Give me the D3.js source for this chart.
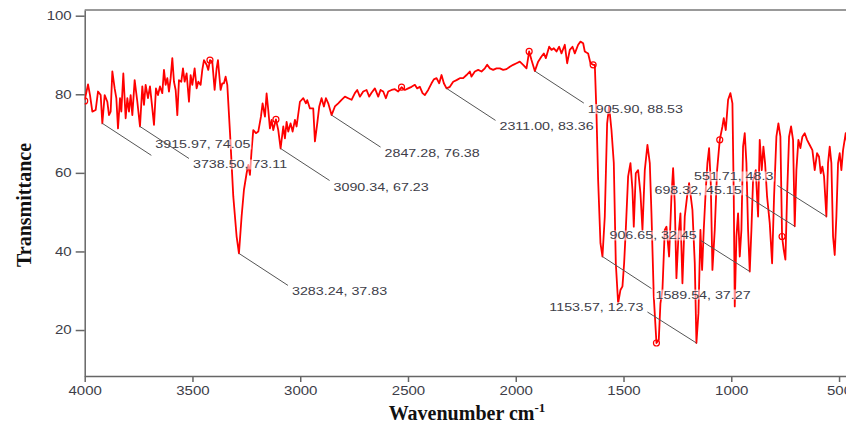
<!DOCTYPE html>
<html>
<head>
<meta charset="utf-8">
<script src="https://cdn.jsdelivr.net/npm/d3@7"></script>
<style>
    body { margin: 0; background: #fff; }
    svg { display: block; }
    .axis text, .peak-label { font-family: "Liberation Sans", Arial, sans-serif; fill: #3d3d48; }
    .axis path, .axis line { stroke: #666; stroke-width: 1.5; }
    .axis-title { font-family: "Liberation Serif", "Times New Roman", serif; font-weight: bold; fill: #111; }
</style>
</head>
<body>
<svg id="chart" width="846" height="425"></svg>
<script>
// IR spectrum (cm-1 / %T)
const wavenumber = [
    4000, 3984.6, 3975.4, 3964.6, 3949.1, 3938.3, 3925.9, 3918.2, 3907.3, 3895.0,
    3887.3, 3879.5, 3871.8, 3861.0, 3853.2, 3845.5, 3836.2, 3830.0, 3820.8, 3810.0,
    3802.2, 3794.5, 3786.8, 3779.0, 3768.2, 3755.8, 3743.5, 3732.7, 3724.9, 3717.2,
    3706.4, 3697.1, 3686.3, 3678.5, 3669.3, 3660.0, 3650.7, 3639.9, 3632.2, 3624.4,
    3616.7, 3609.0, 3601.2, 3593.5, 3585.8, 3578.0, 3570.3, 3562.6, 3551.8, 3544.0,
    3536.3, 3527.0, 3516.2, 3508.5, 3500.7, 3489.9, 3480.7, 3472.9, 3462.1, 3454.4,
    3446.6, 3434.3, 3426.6, 3418.8, 3408.0, 3397.2, 3387.9, 3381.7, 3369.4, 3361.6,
    3353.9, 3346.2, 3338.4, 3326.1, 3310.6, 3295.1, 3284.3, 3272.0, 3261.1, 3248.8,
    3241.0, 3233.3, 3225.6, 3217.8, 3205.5, 3194.6, 3182.3, 3174.6, 3163.7, 3156.0,
    3148.3, 3140.5, 3132.8, 3125.1, 3112.7, 3101.9, 3091.1, 3078.7, 3071.0, 3063.2,
    3055.5, 3044.7, 3035.4, 3024.6, 3016.9, 3001.4, 2985.9, 2973.6, 2967.4, 2955.0,
    2939.6, 2931.8, 2921.0, 2911.7, 2901.0, 2890.1, 2880.9, 2870.0, 2854.6, 2839.1,
    2823.7, 2808.2, 2792.7, 2777.3, 2761.8, 2746.4, 2735.5, 2723.2, 2707.7, 2692.2,
    2679.9, 2669.1, 2653.6, 2638.1, 2627.3, 2614.9, 2602.6, 2591.7, 2576.3, 2560.8,
    2545.4, 2529.9, 2514.5, 2499.0, 2483.5, 2468.1, 2457.3, 2444.9, 2432.5, 2421.7,
    2406.3, 2390.8, 2380.0, 2367.6, 2355.2, 2344.4, 2333.6, 2321.2, 2305.7, 2290.3,
    2274.8, 2259.4, 2243.9, 2228.4, 2213.0, 2205.3, 2189.8, 2174.3, 2158.9, 2143.4,
    2132.6, 2120.2, 2104.8, 2089.3, 2073.8, 2058.4, 2042.9, 2027.5, 2012.0, 1996.5,
    1981.1, 1965.6, 1950.2, 1937.8, 1927.0, 1911.5, 1896.1, 1880.6, 1869.8, 1860.5,
    1845.0, 1834.2, 1823.4, 1811.0, 1798.6, 1787.8, 1772.4, 1761.5, 1749.2, 1736.8,
    1726.0, 1710.5, 1699.7, 1687.3, 1679.7, 1664.2, 1653.3, 1641.0, 1633.2, 1625.5,
    1617.8, 1607.0, 1597.7, 1586.9, 1576.0, 1566.8, 1555.9, 1545.1, 1535.8, 1525.0,
    1514.2, 1504.9, 1497.2, 1489.5, 1478.6, 1467.8, 1458.5, 1452.4, 1443.1, 1432.3,
    1421.4, 1412.1, 1401.3, 1389.0, 1378.1, 1370.4, 1359.6, 1347.2, 1336.4, 1328.7,
    1319.4, 1308.6, 1300.8, 1288.5, 1277.6, 1269.9, 1262.2, 1254.5, 1245.2, 1235.9,
    1226.6, 1215.8, 1205.0, 1195.7, 1188.0, 1180.3, 1169.4, 1161.7, 1152.4, 1143.2,
    1135.4, 1127.7, 1118.4, 1110.7, 1103.0, 1095.2, 1087.5, 1076.7, 1065.8, 1053.5,
    1041.1, 1034.9, 1025.6, 1014.8, 1004.0, 994.7, 988.5, 983.9, 976.2, 968.5,
    960.7, 953.0, 945.3, 937.5, 929.8, 922.1, 914.3, 906.6, 898.9, 886.5,
    875.7, 868.0, 858.7, 851.0, 843.2, 834.0, 821.6, 810.6, 801.5, 790.7,
    781.4, 772.1, 764.4, 756.6, 748.9, 741.2, 731.9, 722.6, 713.4, 705.6,
    697.9, 688.6, 679.4, 670.1, 659.3, 648.4, 636.1, 623.7, 612.9, 602.0,
    592.8, 585.0, 577.3, 569.6, 558.8, 551.0, 543.3, 535.6, 527.8, 520.1,
    512.4, 504.6, 496.9, 489.2, 481.4, 469.1, 460.0, 450.0, 440.0, 425.0,
    410.0, 400.0
];
const transmittance = [
    78.5, 82.5, 79.8, 75.6, 76.0, 80.7, 79.8, 72.6, 79.8, 78.1,
    74.7, 75.6, 85.8, 81.5, 79.0, 71.3, 79.0, 75.6, 85.3, 73.9,
    79.0, 75.6, 79.8, 74.7, 83.6, 78.1, 71.8, 82.0, 77.3, 82.4,
    79.0, 82.0, 76.4, 72.2, 81.5, 79.8, 82.0, 80.3, 86.2, 82.4,
    84.1, 80.7, 84.1, 89.2, 83.2, 81.1, 74.7, 83.6, 83.2, 86.6,
    83.2, 85.3, 78.1, 84.9, 82.4, 86.6, 81.5, 83.2, 82.4, 86.2,
    88.7, 87.5, 86.2, 88.7, 88.3, 81.1, 86.6, 88.7, 81.1, 82.8,
    82.8, 84.5, 82.4, 70.5, 54.0, 43.8, 39.5, 48.9, 55.7, 59.9,
    62.0, 59.5, 65.8, 70.9, 70.1, 70.5, 74.3, 77.7, 74.3, 80.2,
    76.0, 71.3, 73.5, 70.9, 73.6, 70.9, 66.2, 71.8, 68.8, 73.0,
    70.5, 72.6, 70.5, 73.5, 71.8, 78.1, 79.0, 77.7, 78.5, 76.4,
    76.4, 68.0, 72.6, 76.9, 79.0, 76.9, 79.0, 77.7, 74.7, 76.9,
    77.7, 78.6, 79.4, 79.0, 78.6, 80.3, 81.1, 79.4, 80.7, 81.1,
    79.4, 80.4, 81.5, 79.4, 81.1, 80.7, 79.0, 80.7, 81.1, 81.3,
    80.7, 81.8, 81.1, 81.5, 81.9, 82.4, 81.5, 81.9, 80.3, 79.8,
    81.1, 82.8, 83.8, 84.1, 82.8, 84.9, 82.8, 81.5, 81.9, 83.2,
    83.6, 84.1, 84.1, 84.9, 85.8, 84.5, 85.8, 86.2, 85.8, 86.6,
    87.5, 86.6, 86.2, 86.6, 86.6, 86.2, 86.4, 87.0, 87.5, 87.9,
    88.3, 87.5, 86.6, 90.9, 88.7, 85.9, 88.3, 89.6, 90.4, 89.2,
    92.1, 91.3, 91.7, 90.9, 92.1, 90.4, 92.6, 87.9, 91.3, 92.1,
    90.4, 92.6, 93.4, 93.0, 90.9, 90.4, 87.9, 87.5, 87.5, 75.2,
    58.2, 42.1, 38.7, 48.9, 72.6, 76.9, 70.9, 62.5, 37.0, 26.8,
    30.2, 31.1, 37.0, 45.5, 59.1, 62.5, 55.7, 46.3, 59.9, 60.7,
    54.8, 45.5, 60.7, 67.1, 62.5, 49.7, 28.5, 16.7, 17.5, 26.8,
    30.2, 45.5, 46.3, 38.7, 54.0, 61.2, 52.3, 33.2, 43.8, 49.7,
    31.9, 48.9, 54.0, 57.4, 54.0, 50.6, 37.0, 16.7, 24.3, 45.5,
    35.3, 45.5, 55.7, 62.5, 66.3, 57.4, 35.3, 45.5, 60.7, 68.4,
    71.8, 73.9, 70.9, 78.6, 80.3, 77.7, 54.0, 26.0, 43.8, 49.7,
    38.7, 45.5, 66.7, 70.1, 62.5, 45.5, 34.9, 45.5, 58.2, 60.7,
    48.9, 68.4, 60.7, 66.7, 62.5, 54.0, 47.2, 37.0, 54.0, 69.2,
    72.6, 69.2, 43.8, 40.4, 37.9, 54.0, 69.2, 71.8, 68.4, 46.4,
    60.7, 68.4, 66.3, 69.2, 70.1, 68.4, 67.1, 65.8, 60.7, 65.0,
    64.1, 59.9, 61.6, 59.1, 48.9, 62.5, 66.7, 62.5, 43.8, 39.1,
    48.9, 62.5, 65.0, 60.7, 65.8, 70.1, 66.5, 68.0, 63.5, 66.0,
    62.0, 64.0
];

// picked peaks shown with a label
const peakWavenumber = [3915.97, 3738.50, 3090.34, 3283.24, 2847.28, 2311.00, 1905.90, 1589.54, 1153.57, 906.65, 698.32, 551.71];
const peakTransmittance = [74.05, 73.11, 67.23, 37.83, 76.38, 83.36, 88.53, 37.27, 12.73, 32.45, 45.15, 48.3];

// small open circles on the trace
const markerWavenumber = [4000, 3418.8, 3112.7, 2529.9, 1937.8, 1641.0, 1347.2, 1053.5, 764.4];
const markerTransmittance = [78.3, 88.7, 73.6, 81.8, 90.9, 87.5, 16.7, 68.4, 43.8];

const xTicks = [4000, 3500, 3000, 2500, 2000, 1500, 1000, 500];
const yTicks = [20, 40, 60, 80, 100];

// label placement: 1 = label right/below the peak, -1 = label left/above it
const labelSide = [1, 1, 1, 1, 1, 1, 1, 1, -1, -1, -1, -1];
const labelShiftY = [-7, 10, 10, 10, 10, 10, 10, 10, -1, -1, -1, -5];

const spectrum = wavenumber.map((w, i) => ({ wn: w, t: transmittance[i] }));

const svg = d3.select("#chart");
const width = +svg.attr("width");

const x = d3.scaleLinear().domain([4000, 400]).range([84.7, 860.6]);
const y = d3.scaleLinear().domain([101.45, 8.3]).range([10, 376]);

// stretch text a bit wider, the source picture is scaled horizontally
function widen(sel, k) {
    sel.each(function () {
        const w = this.getComputedTextLength();
        d3.select(this).attr("textLength", w * k).attr("lengthAdjust", "spacingAndGlyphs");
    });
}

svg.append("defs")
    .append("clipPath")
    .attr("id", "plot-clip")
    .append("rect")
    .attr("x", x(4000))
    .attr("y", y(101.45))
    .attr("width", width - x(4000))
    .attr("height", y(8.3) - y(101.45));

// Axes
const gx = svg.append("g")
    .classed("axis", true)
    .attr("transform", `translate(0,${y(8.3)})`)
    .call(d3.axisBottom(x).tickValues(xTicks).tickSize(6).tickSizeOuter(0).tickPadding(4).tickFormat(d3.format("d")));
gx.selectAll("text").attr("font-size", 12);
widen(gx.selectAll("text"), 1.25);

const gy = svg.append("g")
    .classed("axis", true)
    .attr("transform", `translate(${x(4000)},0)`)
    .call(d3.axisLeft(y).tickValues(yTicks).tickSize(9).tickSizeOuter(0).tickPadding(4));
gy.selectAll("text").attr("font-size", 12);
widen(gy.selectAll("text"), 1.25);

// top frame line
svg.append("line")
    .attr("x1", x(4000))
    .attr("x2", width)
    .attr("y1", y(101.45))
    .attr("y2", y(101.45))
    .attr("stroke", "#777")
    .attr("stroke-width", 1.5);

// Spectrum
const plot = svg.append("g").attr("clip-path", "url(#plot-clip)");

plot.append("path")
    .datum(spectrum)
    .attr("fill", "none")
    .attr("stroke", "#ff0000")
    .attr("stroke-width", 1.8)
    .attr("stroke-linejoin", "round")
    .attr("d", d3.line().x(d => x(d.wn)).y(d => y(d.t)));

plot.selectAll("circle.marker")
    .data(markerWavenumber.map((w, i) => ({ wn: w, t: markerTransmittance[i] })))
    .join("circle")
    .classed("marker", true)
    .attr("cx", d => x(d.wn))
    .attr("cy", d => y(d.t))
    .attr("r", 3)
    .attr("fill", "none")
    .attr("stroke", "#ff0000")
    .attr("stroke-width", 1.2);

// Peak labels, the leader line starts at the trace minimum near the peak
function anchorFor(wn) {
    let best = null;
    spectrum.forEach(p => {
        if (Math.abs(p.wn - wn) <= 12 && (!best || p.t < best.t)) {
            best = p;
        }
    });
    return best;
}

const gLabels = svg.append("g");
peakWavenumber.forEach((wn, i) => {
    const a = anchorFor(wn);
    const ax = x(a.wn),
        ay = y(a.t);
    const side = labelSide[i];
    const ex = ax + side * 49,
        ey = ay + side * (side > 0 ? 32 : 31);

    gLabels.append("line")
        .attr("x1", ax)
        .attr("y1", ay)
        .attr("x2", ex)
        .attr("y2", ey)
        .attr("stroke", "#555")
        .attr("stroke-width", 1);

    const g = gLabels.append("g");
    const bg = g.append("rect");
    const text = g.append("text")
        .classed("peak-label", true)
        .attr("x", ex + side * 4)
        .attr("y", ey + labelShiftY[i])
        .attr("font-size", 11.5)
        .attr("text-anchor", side > 0 ? "start" : "end")
        .text(`${wn.toFixed(2)}, ${peakTransmittance[i]}`);
    widen(text, 1.24);

    const b = text.node().getBBox();
    bg.attr("x", b.x - 1)
        .attr("y", b.y + 1)
        .attr("width", b.width + 2)
        .attr("height", b.height - 2)
        .attr("fill", "#fff")
        .attr("fill-opacity", 0.55);
});

// Axis titles
svg.append("text")
    .classed("axis-title", true)
    .attr("transform", `translate(31,${(y(101.45) + y(8.3)) / 2 + 12}) rotate(-90)`)
    .attr("text-anchor", "middle")
    .attr("font-size", 20)
    .text("Transmittance");

const xTitle = svg.append("text")
    .classed("axis-title", true)
    .attr("x", 467)
    .attr("y", 420)
    .attr("text-anchor", "middle")
    .attr("font-size", 20);
xTitle.append("tspan").text("Wavenumber cm");
xTitle.append("tspan").attr("font-size", 13).attr("dy", -8).text("-1");
</script>
</body>
</html>
